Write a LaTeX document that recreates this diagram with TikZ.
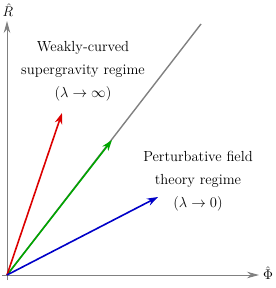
\RequirePackage{fix-cm}
\documentclass[tikz,border=0pt]{standalone}
\usetikzlibrary{arrows.meta}
\definecolor{axisgray}{RGB}{128,128,128}
\definecolor{myred}{RGB}{220,0,0}
\definecolor{mygreen}{RGB}{0,165,0}
\definecolor{myblue}{RGB}{0,0,200}
\tikzset{
  axis/.style={axisgray, line width=0.9pt, -{Stealth[length=12pt,width=6.5pt]}},
  vec/.style={line width=1.6pt, -{Stealth[length=11pt,width=7.5pt]}},
  regime/.style={align=center, font=\fontsize{14.6}{23}\selectfont},
  axlabel/.style={font=\fontsize{14}{16}\selectfont}
}
\begin{document}
\begin{tikzpicture}[x=1pt,y=-1pt]
\useasboundingbox (0,0) rectangle (275,288);
\coordinate (O) at (7,275);
\coordinate (xs) at (2,275);
\coordinate (xe) at (259,275);
\coordinate (ys) at (7,280);
\coordinate (ye) at (7,21);
\coordinate (G) at (201,24);
\coordinate (Gt) at (112,140);
\coordinate (Rt) at (62,113);
\coordinate (Bt) at (158,197);
\draw[axis] (xs) -- (xe);
\draw[axis] (ys) -- (ye);
\node[axlabel] (phi) at (268,273) {$\hat{\Phi}$};
\node[axlabel] (r) at (8,10) {$\hat{R}$};
\draw[axisgray, line width=1.4pt] (O) -- (G);
\draw[vec, mygreen] (O) -- (Gt);
\draw[vec, myred] (O) -- (Rt);
\draw[vec, myblue] (O) -- (Bt);
\node[regime] (weak) at (83,71) {Weakly-curved\\supergravity regime\\$(\lambda\to\infty)$};
\node[regime] (pert) at (198,181) {Perturbative field\\theory regime\\$(\lambda\to0)$};
\end{tikzpicture}
\end{document}
